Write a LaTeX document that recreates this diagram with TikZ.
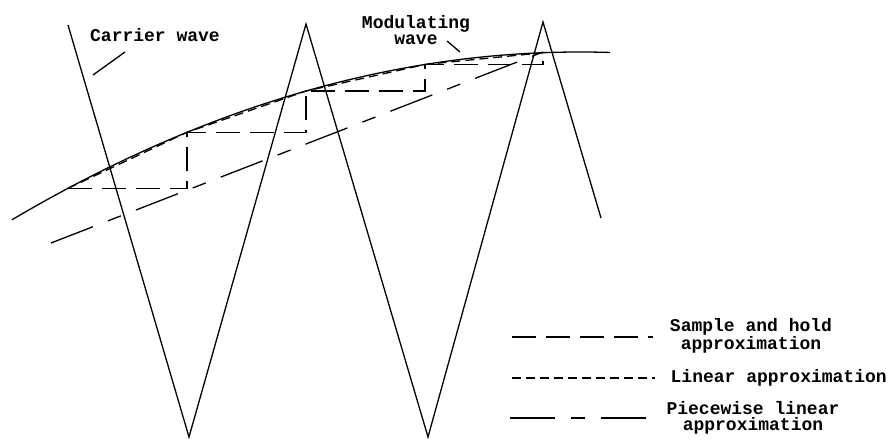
\documentclass[tikz,border=0pt]{standalone}
\usepackage{fontspec}
\newfontfamily\plotfont{Liberation Mono}
\usepackage{tikz}

\begin{document}
\begin{tikzpicture}[x=1pt, y=-1pt, line width=1.3pt,
    declare function={modw(\t)=52+520*((\t-580)/1000)^2;},
    holdline/.style={dash pattern=on 24pt off 10pt},
    linline/.style={dash pattern=on 9pt off 5pt},
    pieceline/.style={dash pattern=on 45pt off 16pt on 14pt off 16pt},
    lbl/.style={font=\plotfont\bfseries\fontsize{18}{16}\selectfont, inner sep=0pt, align=center}]
    \useasboundingbox (0,0) rectangle (889,444);

    % carrier wave (triangle)
    \draw (68,25) -- (189,437) -- (306,24) -- (428,437) -- (543,22) -- (601,218);

    % modulating wave
    \draw[domain=12:610, samples=80, smooth] plot (\x, {modw(\x)});

    % sample and hold steps
    \draw[holdline] (68,{modw(68)}) \foreach \s in {187,306,425,543} { -| (\s,{modw(\s)}) };

    % linear approximation through the samples
    \draw[linline] (68,{modw(68)}) \foreach \s in {187,306,425,543} { -- (\s,{modw(\s)}) };

    % piecewise linear approximation
    \draw[pieceline] (51,243) -- (543,52);

    % labels
    \node[lbl] (carrier) at (155,35) {Carrier wave};
    \coordinate (carrierlead) at (125,52);
    \coordinate (carriertip) at (93,75);
    \draw (carrierlead) -- (carriertip);

    \node[lbl] (modwave) at (416,30) {Modulating\\wave};
    \coordinate (modlead) at (447,41);
    \coordinate (modtip) at (460,52);
    \draw (modlead) -- (modtip);

    % legend
    \coordinate (holdA) at (512,337);
    \coordinate (holdB) at (653,337);
    \draw[holdline] (holdA) -- (holdB);
    \node[lbl] (holdtxt) at (751,336) {Sample and hold\\approximation};

    \coordinate (linA) at (512,378);
    \coordinate (linB) at (655,378);
    \draw[linline] (linA) -- (linB);
    \node[lbl, anchor=west] (lintxt) at (670,378) {Linear approximation};

    \coordinate (pieceA) at (510,418);
    \coordinate (pieceB) at (655,418);
    \draw[pieceline] (pieceA) -- (pieceB);
    \node[lbl] (piecetxt) at (753,418) {Piecewise linear\\approximation};
\end{tikzpicture}
\end{document}
